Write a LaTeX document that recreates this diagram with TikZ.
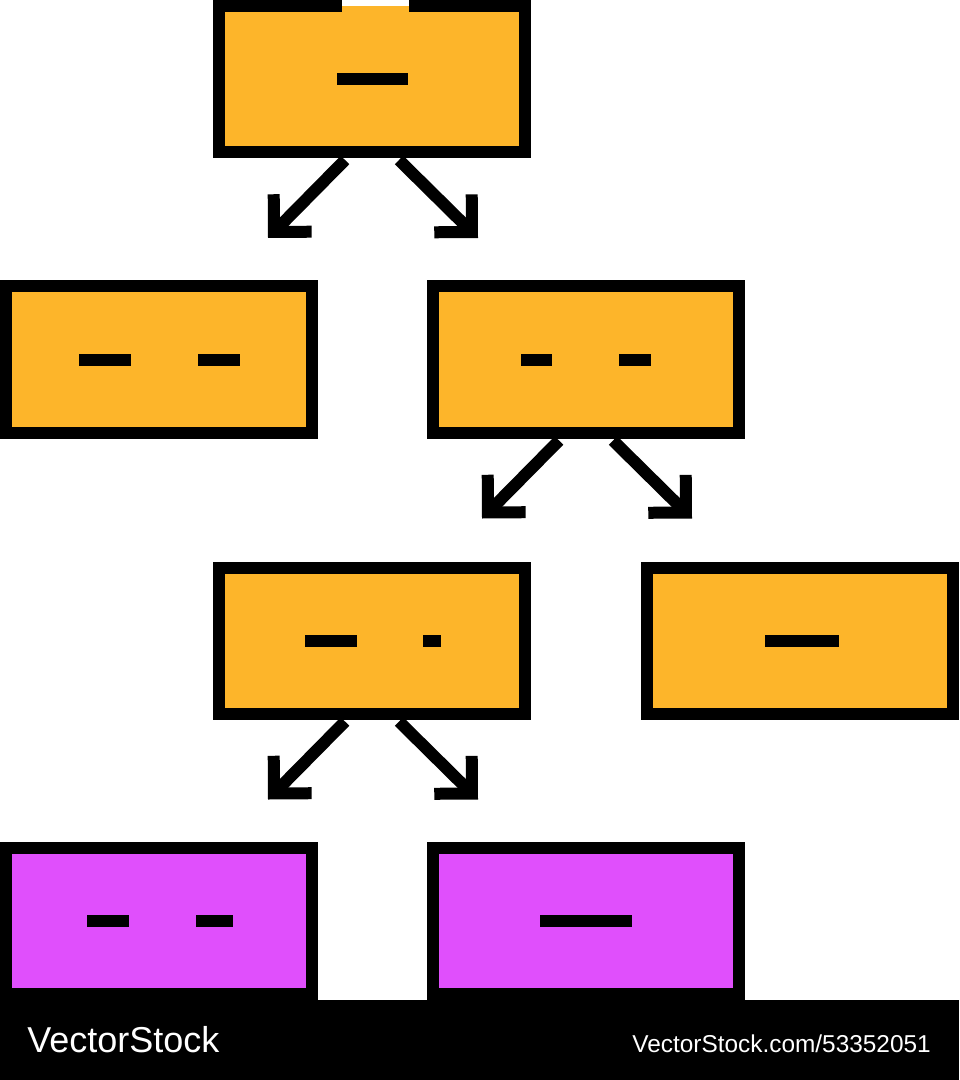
\documentclass[tikz,border=0pt]{standalone}
\usepackage{fontspec}
\usepackage{tikz}
\usetikzlibrary{arrows.meta,calc}
\newfontfamily\stockfont{Liberation Sans}
\definecolor{boxorange}{HTML}{FDB52A}
\definecolor{boxpink}{HTML}{E04FFC}

\begin{document}
\begin{tikzpicture}[x=0.75pt,y=-0.75pt,
    box/.style={draw=black,line width=9pt,fill=boxorange,
        minimum width=229.5pt,minimum height=109.5pt,inner sep=0pt},
    leaf/.style={box,fill=boxpink},
    arrowline/.style={line width=9pt,-{Straight Barb[length=20pt,width=40pt,sharp]}},
    stocktext/.style={inner sep=0pt,text=white}
    ]
    \useasboundingbox (0,0) rectangle (959,1080);

    \node[box] (top) at (372,79) {};
    \node[box] (left) at (159,359.5) {};
    \node[box] (right) at (586,359.5) {};
    \node[box] (rl) at (372,640.5) {};
    \node[box] (rr) at (799.5,640.5) {};
    \node[leaf] (rll) at (159,921) {};
    \node[leaf] (rlr) at (586,921) {};

    % notch in the top edge
    \fill[white] (342,0) rectangle (409,6);
    \fill[boxorange] (342,6) rectangle (409,12);

    % bars standing in for the labels
    \foreach \n/\a/\b in {top/-35/36, left/-80/-28, left/39/81, right/-65/-34, right/33/65,
        rl/-67/-15, rl/51/69, rr/-35/39, rll/-72/-30, rll/37/74, rlr/-46/46}
        \fill ($(\n)+(\a,-6)$) rectangle ($(\n)+(\b,6)$);

    \foreach \n in {top,right,rl}{
        \coordinate (\n-l) at ($(\n.south)+(-104,80)$);
        \coordinate (\n-r) at ($(\n.south)+(106,80)$);
        \draw[arrowline] ($(\n.south)+(-27,2)$) -- (\n-l);
        \draw[arrowline] ($(\n.south)+(27,2)$) -- (\n-r);
    }

    \fill[black] (0,1000) rectangle (959,1080);
    \node[stocktext,anchor=base west,font=\stockfont\fontsize{27}{27}\selectfont]
        (brand) at (27,1052) {VectorStock};
    \node[stocktext,anchor=base east,font=\stockfont\fontsize{18.3}{18.3}\selectfont]
        (stockid) at (931,1052) {VectorStock.com/53352051};
\end{tikzpicture}
\end{document}
